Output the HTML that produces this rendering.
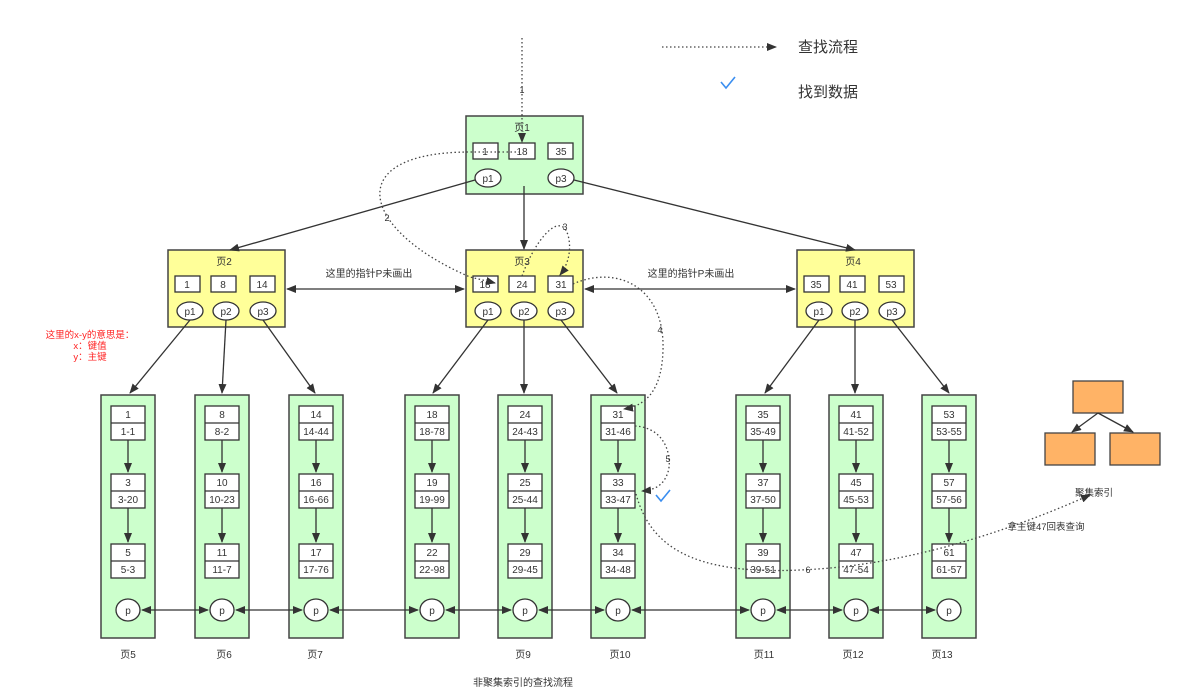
<!DOCTYPE html>
<html><head><meta charset="utf-8"><style>
html,body{margin:0;padding:0;background:#fff;}
svg{display:block;font-family:"Liberation Sans","Noto Sans CJK SC",sans-serif;}
text{fill:#333;font-size:10px;text-anchor:middle;}
.b{fill:#fff;stroke:#333;stroke-width:1.3;}
.g{fill:#ccffcc;stroke:#444;stroke-width:1.5;}
.y{fill:#ffff99;stroke:#444;stroke-width:1.5;}
.l{stroke:#333;stroke-width:1.3;fill:none;}
.d{stroke:#444;stroke-width:1.3;fill:none;stroke-dasharray:1.5 2.5;}
</style></head><body>
<svg width="1189" height="693" viewBox="0 0 1189 693" xmlns="http://www.w3.org/2000/svg">
<defs>
<marker id="a" markerWidth="10" markerHeight="8" refX="9" refY="4" orient="auto" markerUnits="userSpaceOnUse"><path d="M0,0 L10,4 L0,8 Z" fill="#333"/></marker>
<marker id="s" markerWidth="10" markerHeight="8" refX="1" refY="4" orient="auto" markerUnits="userSpaceOnUse"><path d="M10,0 L0,4 L10,8 Z" fill="#333"/></marker>
</defs>

<!-- legend -->
<line x1="662" y1="47" x2="776" y2="47" class="d" marker-end="url(#a)"/>
<text x="828" y="52" style="font-size:15px">查找流程</text>
<text x="828" y="97" style="font-size:15px">找到数据</text>
<path d="M721,82 L726,88 L735,77" stroke="#3a8ef0" stroke-width="1.6" fill="none"/>

<!-- page 1 -->
<rect x="466" y="116" width="117" height="78" class="g"/>
<text x="522" y="131">页1</text>
<rect x="473" y="143" width="25" height="16" class="b"/><text x="485" y="155">1</text>
<rect x="509" y="143" width="26" height="16" class="b"/><text x="522" y="155">18</text>
<rect x="548" y="143" width="25" height="16" class="b"/><text x="561" y="155">35</text>
<ellipse cx="488" cy="178" rx="13" ry="9" class="b"/><text x="488" y="182">p1</text>
<ellipse cx="561" cy="178" rx="13" ry="9" class="b"/><text x="561" y="182">p3</text>

<!-- level 2 -->
<rect x="168" y="250" width="117" height="77" class="y"/>
<text x="224" y="265">页2</text>
<rect x="175" y="276" width="25" height="16" class="b"/><text x="187" y="288">1</text>
<rect x="211" y="276" width="25" height="16" class="b"/><text x="223" y="288">8</text>
<rect x="250" y="276" width="25" height="16" class="b"/><text x="262" y="288">14</text>
<ellipse cx="190" cy="311" rx="13" ry="9" class="b"/><text x="190" y="315">p1</text>
<ellipse cx="226" cy="311" rx="13" ry="9" class="b"/><text x="226" y="315">p2</text>
<ellipse cx="263" cy="311" rx="13" ry="9" class="b"/><text x="263" y="315">p3</text>

<rect x="466" y="250" width="117" height="77" class="y"/>
<text x="522" y="265">页3</text>
<rect x="473" y="276" width="25" height="16" class="b"/><text x="485" y="288">18</text>
<rect x="509" y="276" width="26" height="16" class="b"/><text x="522" y="288">24</text>
<rect x="548" y="276" width="25" height="16" class="b"/><text x="561" y="288">31</text>
<ellipse cx="488" cy="311" rx="13" ry="9" class="b"/><text x="488" y="315">p1</text>
<ellipse cx="524" cy="311" rx="13" ry="9" class="b"/><text x="524" y="315">p2</text>
<ellipse cx="561" cy="311" rx="13" ry="9" class="b"/><text x="561" y="315">p3</text>

<rect x="797" y="250" width="117" height="77" class="y"/>
<text x="853" y="265">页4</text>
<rect x="804" y="276" width="25" height="16" class="b"/><text x="816" y="288">35</text>
<rect x="840" y="276" width="25" height="16" class="b"/><text x="852" y="288">41</text>
<rect x="879" y="276" width="25" height="16" class="b"/><text x="891" y="288">53</text>
<ellipse cx="819" cy="311" rx="13" ry="9" class="b"/><text x="819" y="315">p1</text>
<ellipse cx="855" cy="311" rx="13" ry="9" class="b"/><text x="855" y="315">p2</text>
<ellipse cx="892" cy="311" rx="13" ry="9" class="b"/><text x="892" y="315">p3</text>

<!-- root arrows -->
<line x1="475" y1="180" x2="230" y2="250" class="l" marker-end="url(#a)"/>
<line x1="524" y1="186" x2="524" y2="249" class="l" marker-end="url(#a)"/>
<line x1="574" y1="180" x2="855" y2="250" class="l" marker-end="url(#a)"/>

<!-- sibling arrows -->
<line x1="287" y1="289" x2="464" y2="289" class="l" marker-start="url(#s)" marker-end="url(#a)"/>
<line x1="585" y1="289" x2="795" y2="289" class="l" marker-start="url(#s)" marker-end="url(#a)"/>
<text x="369" y="277">这里的指针P未画出</text>
<text x="691" y="277">这里的指针P未画出</text>

<!-- red note -->
<text x="90" y="338" style="fill:#f22;font-size:9.5px">这里的x-y的意思是：</text>
<text x="90" y="349" style="fill:#f22;font-size:9.5px">x：键值</text>
<text x="90" y="360" style="fill:#f22;font-size:9.5px">y：主键</text>

<!-- level2 -> leaf arrows -->
<line x1="190" y1="320" x2="130" y2="393" class="l" marker-end="url(#a)"/>
<line x1="226" y1="320" x2="222" y2="393" class="l" marker-end="url(#a)"/>
<line x1="263" y1="320" x2="315" y2="393" class="l" marker-end="url(#a)"/>
<line x1="488" y1="320" x2="433" y2="393" class="l" marker-end="url(#a)"/>
<line x1="524" y1="320" x2="524" y2="393" class="l" marker-end="url(#a)"/>
<line x1="561" y1="320" x2="617" y2="393" class="l" marker-end="url(#a)"/>
<line x1="819" y1="320" x2="765" y2="393" class="l" marker-end="url(#a)"/>
<line x1="855" y1="320" x2="855" y2="393" class="l" marker-end="url(#a)"/>
<line x1="892" y1="320" x2="949" y2="393" class="l" marker-end="url(#a)"/>

<!-- leaves -->
<g id="c1"><rect x="101" y="395" width="54" height="243" class="g"/>
<rect x="111" y="406" width="34" height="34" class="b"/><line x1="111" y1="423" x2="145" y2="423" class="l"/><text x="128" y="418">1</text><text x="128" y="435">1-1</text>
<line x1="128" y1="440" x2="128" y2="472" class="l" marker-end="url(#a)"/>
<rect x="111" y="474" width="34" height="34" class="b"/><line x1="111" y1="491" x2="145" y2="491" class="l"/><text x="128" y="486">3</text><text x="128" y="503">3-20</text>
<line x1="128" y1="508" x2="128" y2="542" class="l" marker-end="url(#a)"/>
<rect x="111" y="544" width="34" height="34" class="b"/><line x1="111" y1="561" x2="145" y2="561" class="l"/><text x="128" y="556">5</text><text x="128" y="573">5-3</text>
<ellipse cx="128" cy="610" rx="12" ry="11" class="b"/><text x="128" y="614">p</text></g>

<g><rect x="195" y="395" width="54" height="243" class="g"/>
<rect x="205" y="406" width="34" height="34" class="b"/><line x1="205" y1="423" x2="239" y2="423" class="l"/><text x="222" y="418">8</text><text x="222" y="435">8-2</text>
<line x1="222" y1="440" x2="222" y2="472" class="l" marker-end="url(#a)"/>
<rect x="205" y="474" width="34" height="34" class="b"/><line x1="205" y1="491" x2="239" y2="491" class="l"/><text x="222" y="486">10</text><text x="222" y="503">10-23</text>
<line x1="222" y1="508" x2="222" y2="542" class="l" marker-end="url(#a)"/>
<rect x="205" y="544" width="34" height="34" class="b"/><line x1="205" y1="561" x2="239" y2="561" class="l"/><text x="222" y="556">11</text><text x="222" y="573">11-7</text>
<ellipse cx="222" cy="610" rx="12" ry="11" class="b"/><text x="222" y="614">p</text></g>

<g><rect x="289" y="395" width="54" height="243" class="g"/>
<rect x="299" y="406" width="34" height="34" class="b"/><line x1="299" y1="423" x2="333" y2="423" class="l"/><text x="316" y="418">14</text><text x="316" y="435">14-44</text>
<line x1="316" y1="440" x2="316" y2="472" class="l" marker-end="url(#a)"/>
<rect x="299" y="474" width="34" height="34" class="b"/><line x1="299" y1="491" x2="333" y2="491" class="l"/><text x="316" y="486">16</text><text x="316" y="503">16-66</text>
<line x1="316" y1="508" x2="316" y2="542" class="l" marker-end="url(#a)"/>
<rect x="299" y="544" width="34" height="34" class="b"/><line x1="299" y1="561" x2="333" y2="561" class="l"/><text x="316" y="556">17</text><text x="316" y="573">17-76</text>
<ellipse cx="316" cy="610" rx="12" ry="11" class="b"/><text x="316" y="614">p</text></g>

<g><rect x="405" y="395" width="54" height="243" class="g"/>
<rect x="415" y="406" width="34" height="34" class="b"/><line x1="415" y1="423" x2="449" y2="423" class="l"/><text x="432" y="418">18</text><text x="432" y="435">18-78</text>
<line x1="432" y1="440" x2="432" y2="472" class="l" marker-end="url(#a)"/>
<rect x="415" y="474" width="34" height="34" class="b"/><line x1="415" y1="491" x2="449" y2="491" class="l"/><text x="432" y="486">19</text><text x="432" y="503">19-99</text>
<line x1="432" y1="508" x2="432" y2="542" class="l" marker-end="url(#a)"/>
<rect x="415" y="544" width="34" height="34" class="b"/><line x1="415" y1="561" x2="449" y2="561" class="l"/><text x="432" y="556">22</text><text x="432" y="573">22-98</text>
<ellipse cx="432" cy="610" rx="12" ry="11" class="b"/><text x="432" y="614">p</text></g>

<g><rect x="498" y="395" width="54" height="243" class="g"/>
<rect x="508" y="406" width="34" height="34" class="b"/><line x1="508" y1="423" x2="542" y2="423" class="l"/><text x="525" y="418">24</text><text x="525" y="435">24-43</text>
<line x1="525" y1="440" x2="525" y2="472" class="l" marker-end="url(#a)"/>
<rect x="508" y="474" width="34" height="34" class="b"/><line x1="508" y1="491" x2="542" y2="491" class="l"/><text x="525" y="486">25</text><text x="525" y="503">25-44</text>
<line x1="525" y1="508" x2="525" y2="542" class="l" marker-end="url(#a)"/>
<rect x="508" y="544" width="34" height="34" class="b"/><line x1="508" y1="561" x2="542" y2="561" class="l"/><text x="525" y="556">29</text><text x="525" y="573">29-45</text>
<ellipse cx="525" cy="610" rx="12" ry="11" class="b"/><text x="525" y="614">p</text></g>

<g><rect x="591" y="395" width="54" height="243" class="g"/>
<rect x="601" y="406" width="34" height="34" class="b"/><line x1="601" y1="423" x2="635" y2="423" class="l"/><text x="618" y="418">31</text><text x="618" y="435">31-46</text>
<line x1="618" y1="440" x2="618" y2="472" class="l" marker-end="url(#a)"/>
<rect x="601" y="474" width="34" height="34" class="b"/><line x1="601" y1="491" x2="635" y2="491" class="l"/><text x="618" y="486">33</text><text x="618" y="503">33-47</text>
<line x1="618" y1="508" x2="618" y2="542" class="l" marker-end="url(#a)"/>
<rect x="601" y="544" width="34" height="34" class="b"/><line x1="601" y1="561" x2="635" y2="561" class="l"/><text x="618" y="556">34</text><text x="618" y="573">34-48</text>
<ellipse cx="618" cy="610" rx="12" ry="11" class="b"/><text x="618" y="614">p</text></g>

<g><rect x="736" y="395" width="54" height="243" class="g"/>
<rect x="746" y="406" width="34" height="34" class="b"/><line x1="746" y1="423" x2="780" y2="423" class="l"/><text x="763" y="418">35</text><text x="763" y="435">35-49</text>
<line x1="763" y1="440" x2="763" y2="472" class="l" marker-end="url(#a)"/>
<rect x="746" y="474" width="34" height="34" class="b"/><line x1="746" y1="491" x2="780" y2="491" class="l"/><text x="763" y="486">37</text><text x="763" y="503">37-50</text>
<line x1="763" y1="508" x2="763" y2="542" class="l" marker-end="url(#a)"/>
<rect x="746" y="544" width="34" height="34" class="b"/><line x1="746" y1="561" x2="780" y2="561" class="l"/><text x="763" y="556">39</text><text x="763" y="573">39-51</text>
<ellipse cx="763" cy="610" rx="12" ry="11" class="b"/><text x="763" y="614">p</text></g>

<g><rect x="829" y="395" width="54" height="243" class="g"/>
<rect x="839" y="406" width="34" height="34" class="b"/><line x1="839" y1="423" x2="873" y2="423" class="l"/><text x="856" y="418">41</text><text x="856" y="435">41-52</text>
<line x1="856" y1="440" x2="856" y2="472" class="l" marker-end="url(#a)"/>
<rect x="839" y="474" width="34" height="34" class="b"/><line x1="839" y1="491" x2="873" y2="491" class="l"/><text x="856" y="486">45</text><text x="856" y="503">45-53</text>
<line x1="856" y1="508" x2="856" y2="542" class="l" marker-end="url(#a)"/>
<rect x="839" y="544" width="34" height="34" class="b"/><line x1="839" y1="561" x2="873" y2="561" class="l"/><text x="856" y="556">47</text><text x="856" y="573">47-54</text>
<ellipse cx="856" cy="610" rx="12" ry="11" class="b"/><text x="856" y="614">p</text></g>

<g><rect x="922" y="395" width="54" height="243" class="g"/>
<rect x="932" y="406" width="34" height="34" class="b"/><line x1="932" y1="423" x2="966" y2="423" class="l"/><text x="949" y="418">53</text><text x="949" y="435">53-55</text>
<line x1="949" y1="440" x2="949" y2="472" class="l" marker-end="url(#a)"/>
<rect x="932" y="474" width="34" height="34" class="b"/><line x1="932" y1="491" x2="966" y2="491" class="l"/><text x="949" y="486">57</text><text x="949" y="503">57-56</text>
<line x1="949" y1="508" x2="949" y2="542" class="l" marker-end="url(#a)"/>
<rect x="932" y="544" width="34" height="34" class="b"/><line x1="932" y1="561" x2="966" y2="561" class="l"/><text x="949" y="556">61</text><text x="949" y="573">61-57</text>
<ellipse cx="949" cy="610" rx="12" ry="11" class="b"/><text x="949" y="614">p</text></g>

<!-- p links -->
<line x1="142" y1="610" x2="208" y2="610" class="l" marker-start="url(#s)" marker-end="url(#a)"/>
<line x1="236" y1="610" x2="302" y2="610" class="l" marker-start="url(#s)" marker-end="url(#a)"/>
<line x1="330" y1="610" x2="418" y2="610" class="l" marker-start="url(#s)" marker-end="url(#a)"/>
<line x1="446" y1="610" x2="511" y2="610" class="l" marker-start="url(#s)" marker-end="url(#a)"/>
<line x1="539" y1="610" x2="604" y2="610" class="l" marker-start="url(#s)" marker-end="url(#a)"/>
<line x1="632" y1="610" x2="749" y2="610" class="l" marker-start="url(#s)" marker-end="url(#a)"/>
<line x1="777" y1="610" x2="842" y2="610" class="l" marker-start="url(#s)" marker-end="url(#a)"/>
<line x1="870" y1="610" x2="935" y2="610" class="l" marker-start="url(#s)" marker-end="url(#a)"/>

<!-- page labels -->
<text x="128" y="658">页5</text><text x="224" y="658">页6</text><text x="315" y="658">页7</text>
<text x="523" y="658">页9</text><text x="620" y="658">页10</text>
<text x="764" y="658">页11</text><text x="853" y="658">页12</text><text x="942" y="658">页13</text>
<text x="523" y="686">非聚集索引的查找流程</text>

<!-- search path -->
<line x1="522" y1="38" x2="522" y2="142" class="d" marker-end="url(#a)"/>
<text x="522" y="93" style="font-size:9px">1</text>
<path d="M520,152 L470,152 C340,152 360,230 470,277 L495,283" class="d" marker-end="url(#a)"/>
<text x="387" y="221" style="font-size:9px">2</text>
<path d="M522,276 C535,240 560,210 568,235 C572,250 568,265 560,275" class="d" marker-end="url(#a)"/>
<text x="565" y="230" style="font-size:9px">3</text>
<path d="M573,284 C615,265 665,285 663,350 C662,385 650,405 624,409" class="d" marker-end="url(#a)"/>
<text x="660" y="333" style="font-size:9px">4</text>
<path d="M635,426 C668,428 672,460 668,472 C664,485 655,490 642,491" class="d" marker-end="url(#a)"/>
<text x="668" y="462" style="font-size:9px">5</text>
<path d="M642,491 L648,490" stroke="none"/>
<path d="M656,495 L661,501 L670,490" stroke="#3a8ef0" stroke-width="1.6" fill="none"/>
<path d="M636,494 C650,545 690,575 800,570 C900,566 1000,535 1090,495" class="d" marker-end="url(#a)"/>
<text x="808" y="573" style="font-size:9px">6</text>
<text x="1046" y="530" style="font-size:9.5px">拿主键47回表查询</text>

<!-- clustered index icon -->
<rect x="1073" y="381" width="50" height="32" fill="#ffb366" stroke="#444" stroke-width="1.3"/>
<rect x="1045" y="433" width="50" height="32" fill="#ffb366" stroke="#444" stroke-width="1.3"/>
<rect x="1110" y="433" width="50" height="32" fill="#ffb366" stroke="#444" stroke-width="1.3"/>
<line x1="1098" y1="413" x2="1072" y2="432" class="l" marker-end="url(#a)"/>
<line x1="1098" y1="413" x2="1133" y2="432" class="l" marker-end="url(#a)"/>
<text x="1094" y="496" style="font-size:9.5px">聚集索引</text>
</svg>
</body></html>
